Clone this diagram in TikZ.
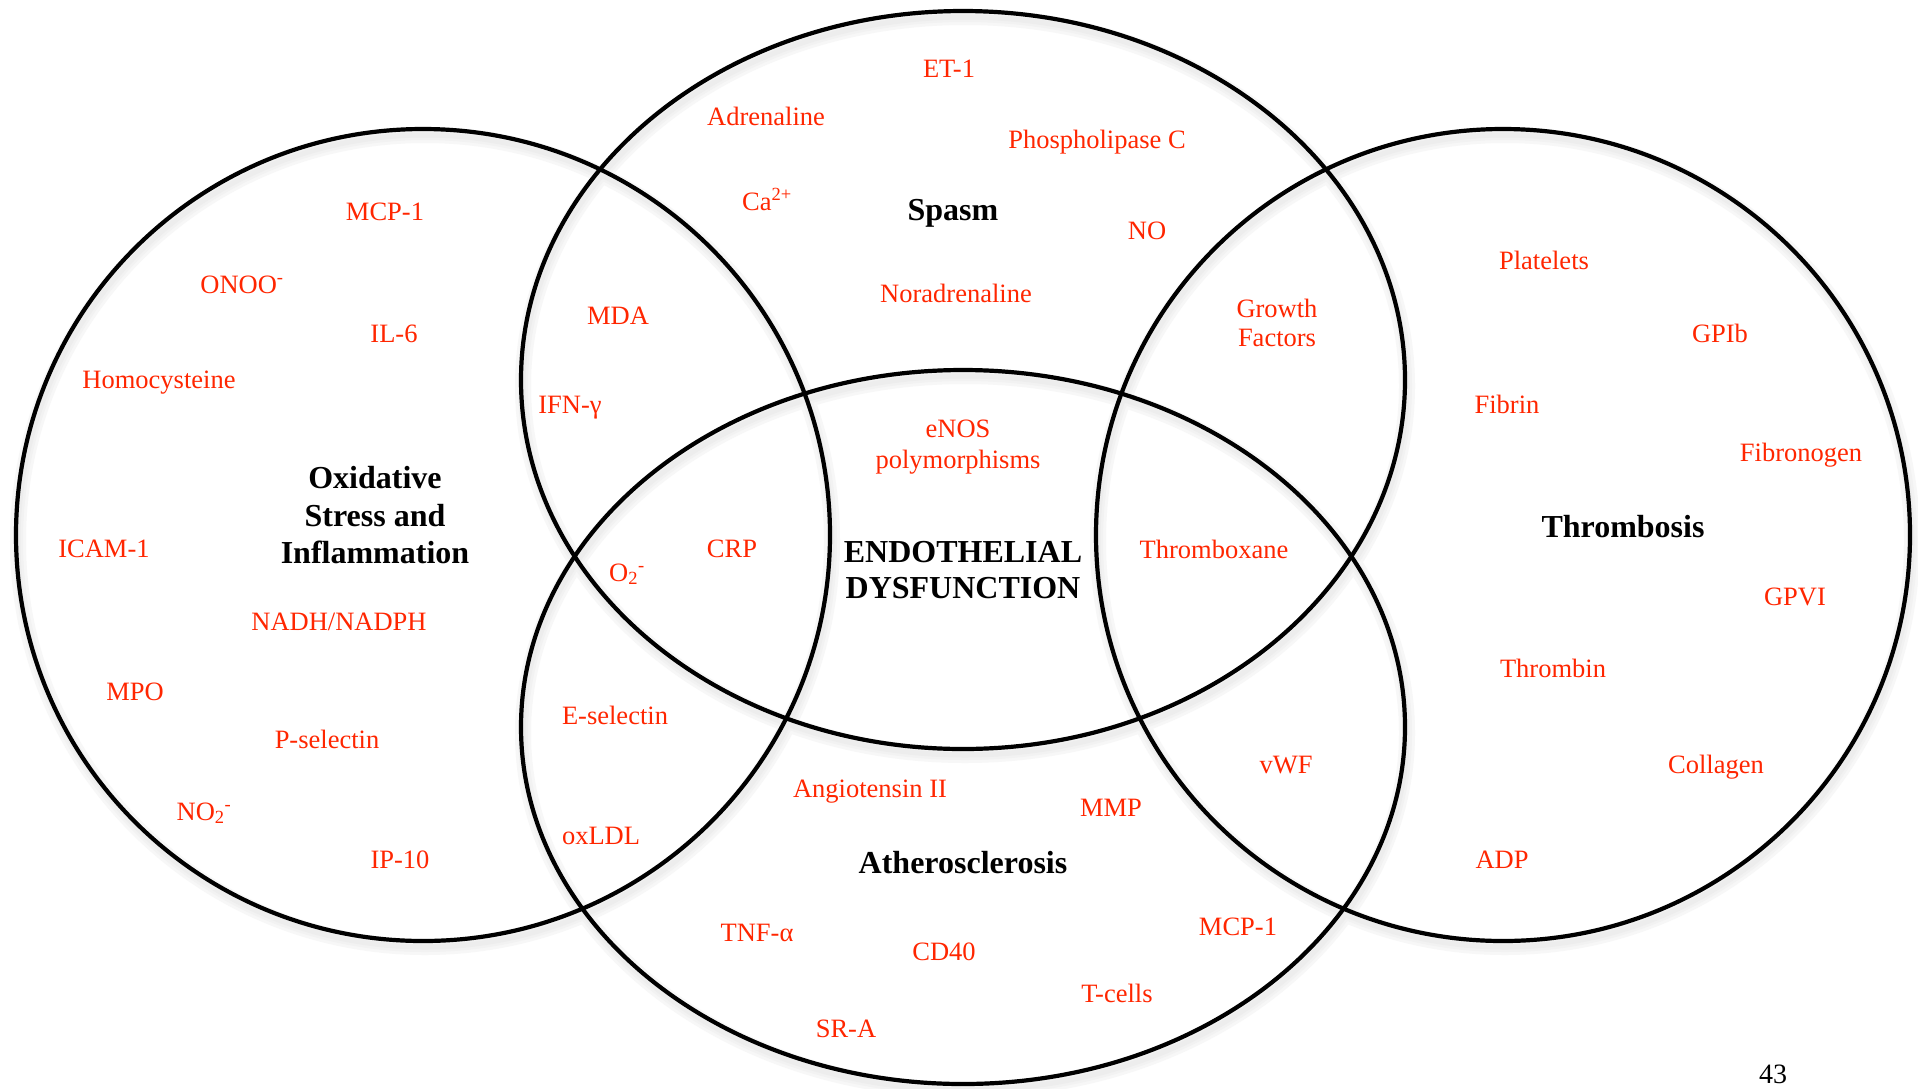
\documentclass[tikz,border=0pt]{standalone}
\usepackage{fontspec}
\setmainfont{Liberation Serif}
\definecolor{lblred}{RGB}{255,38,0}
\begin{document}
\begin{tikzpicture}[x=1pt,y=-1pt,
  lbl/.style={text=lblred,font=\fontsize{26.5}{30}\selectfont,anchor=base,inner sep=0pt},
  ttl/.style={text=black,font=\fontsize{32}{37}\selectfont\bfseries,anchor=base,inner sep=0pt},
  pagenum/.style={text=black,font=\fontsize{28}{32}\selectfont,anchor=base,inner sep=0pt},
  ring/.style={draw=black,line width=4.2pt},
  shadeA/.style={draw=black!3,line width=16pt},
  shadeB/.style={draw=black!5,line width=10pt},
  shadeC/.style={draw=black!7,line width=5pt}
]
\useasboundingbox[fill=white] (0,0) rectangle (1918,1088);

% shadows
\foreach \s in {shadeA,shadeB,shadeC}{
  \draw[\s] (425,541) ellipse [x radius=407, y radius=406];
  \draw[\s] (1505,541) ellipse [x radius=407, y radius=406];
  \draw[\s] (965,386) ellipse [x radius=442, y radius=369];
  \draw[\s] (965,733) ellipse [x radius=442, y radius=357];
}
% rings
\draw[ring] (423,535) ellipse [x radius=407, y radius=406];
\draw[ring] (1503,535) ellipse [x radius=407, y radius=406];
\draw[ring] (963,380) ellipse [x radius=442, y radius=369];
\draw[ring] (963,727) ellipse [x radius=442, y radius=357];

% left circle
\node[lbl] (mcpa) at (385,220) {MCP-1};
\node[lbl] (onoo) at (242,293) {ONOO\textsuperscript{-}};
\node[lbl] (il6) at (394,342) {IL-6};
\node[lbl] (homo) at (159,388) {Homocysteine};
\node[ttl] (oxa) at (375,488) {Oxidative};
\node[ttl] (oxb) at (375,526) {Stress and};
\node[ttl] (oxc) at (375,563) {Inflammation};
\node[lbl] (icam) at (104,557) {ICAM-1};
\node[lbl] (nadh) at (339,630) {NADH/NADPH};
\node[lbl] (mpo) at (135,700) {MPO};
\node[lbl] (psel) at (327,748) {P-selectin};
\node[lbl] (notwo) at (204,820) {NO\textsubscript{2}\textsuperscript{-}};
\node[lbl] (ip10) at (400,868) {IP-10};

% top ellipse
\node[lbl] (et1) at (949,77) {ET-1};
\node[lbl] (adr) at (766,125) {Adrenaline};
\node[lbl] (plc) at (1097,148) {Phospholipase C};
\node[lbl] (ca) at (767,210) {Ca\textsuperscript{2+}};
\node[ttl] (spasm) at (953,220) {Spasm};
\node[lbl] (no) at (1147,239) {NO};
\node[lbl] (nor) at (956,302) {Noradrenaline};
\node[lbl] (mda) at (618,324) {MDA};
\node[lbl] (gfa) at (1277,317) {Growth};
\node[lbl] (gfb) at (1277,346) {Factors};

% middle
\node[lbl] (ifn) at (570,413) {IFN-γ};
\node[lbl] (enosa) at (958,437) {eNOS};
\node[lbl] (enosb) at (958,468) {polymorphisms};
\node[lbl] (crp) at (732,557) {CRP};
\node[lbl] (otwo) at (627,581) {O\textsubscript{2}\textsuperscript{-}};
\node[ttl] (enda) at (963,562) {ENDOTHELIAL};
\node[ttl] (endb) at (963,598) {DYSFUNCTION};
\node[lbl] (txa) at (1214,558) {Thromboxane};
\node[lbl] (esel) at (615,724) {E-selectin};

% bottom ellipse
\node[lbl] (ang) at (870,797) {Angiotensin II};
\node[lbl] (mmp) at (1111,816) {MMP};
\node[lbl] (oxldl) at (601,844) {oxLDL};
\node[ttl] (ath) at (963,873) {Atherosclerosis};
\node[lbl] (tnf) at (757,941) {TNF-α};
\node[lbl] (cd40) at (944,960) {CD40};
\node[lbl] (mcpb) at (1238,935) {MCP-1};
\node[lbl] (tcell) at (1117,1002) {T-cells};
\node[lbl] (sra) at (846,1037) {SR-A};

% right circle
\node[lbl] (plt) at (1544,269) {Platelets};
\node[lbl] (gpib) at (1720,342) {GPIb};
\node[lbl] (fib) at (1507,413) {Fibrin};
\node[lbl] (fibro) at (1801,461) {Fibronogen};
\node[ttl] (thr) at (1623,537) {Thrombosis};
\node[lbl] (gpvi) at (1795,605) {GPVI};
\node[lbl] (thrombin) at (1553,677) {Thrombin};
\node[lbl] (vwf) at (1286,773) {vWF};
\node[lbl] (coll) at (1716,773) {Collagen};
\node[lbl] (adp) at (1502,868) {ADP};

\node[pagenum] (pg) at (1773,1083) {43};
\end{tikzpicture}
\end{document}
